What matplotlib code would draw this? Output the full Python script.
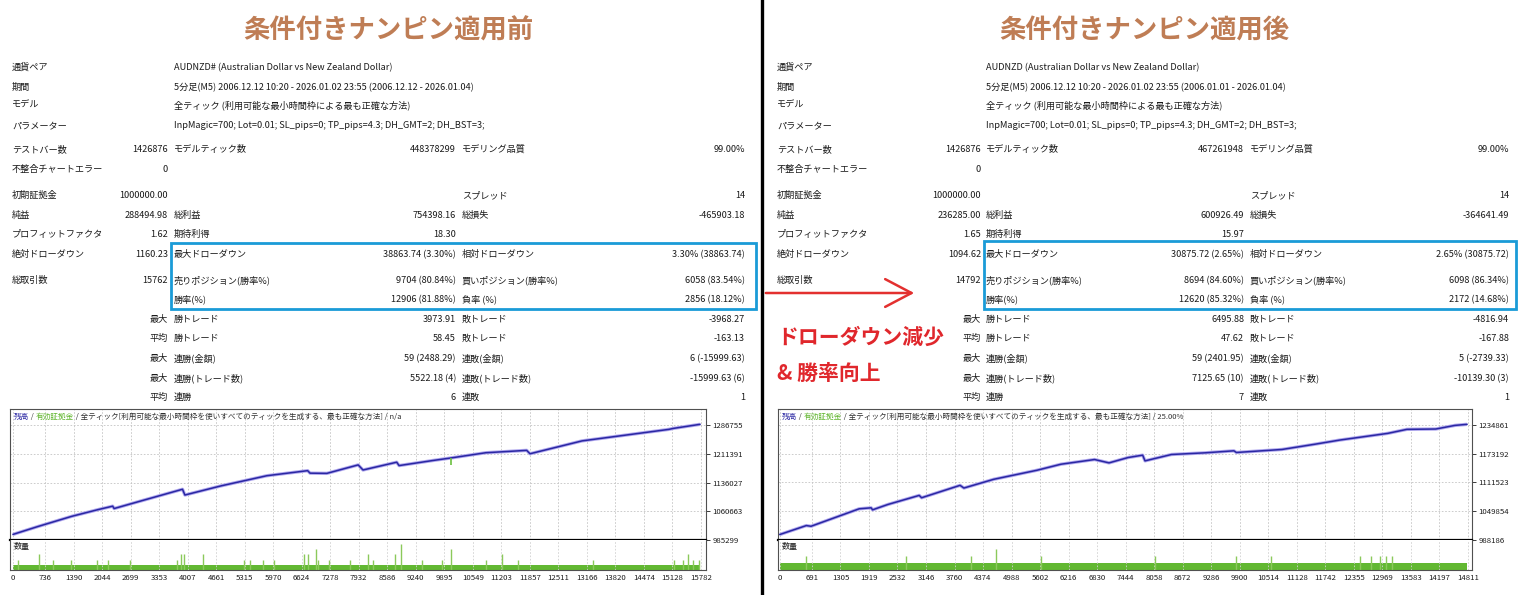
import numpy as np
import matplotlib
matplotlib.use("Agg")
import matplotlib.pyplot as plt
from matplotlib.patches import Rectangle

plt.rcParams['font.family'] = ['Noto Sans CJK JP', 'DejaVu Sans']

W, H = 1521, 595

# ---------------- data ----------------
titles = ['条件付きナンピン適用前', '条件付きナンピン適用後']
note_lines = ['ドローダウン減少', '& 勝率向上']

head_labels = ['通貨ペア', '期間', 'モデル', 'パラメーター']
head_before = ['AUDNZD# (Australian Dollar vs New Zealand Dollar)',
               '5分足(M5) 2006.12.12 10:20 - 2026.01.02 23:55 (2006.12.12 - 2026.01.04)',
               '全ティック (利用可能な最小時間枠による最も正確な方法)',
               'InpMagic=700; Lot=0.01; SL_pips=0; TP_pips=4.3; DH_GMT=2; DH_BST=3;']
head_after = ['AUDNZD (Australian Dollar vs New Zealand Dollar)',
              '5分足(M5) 2006.12.12 10:20 - 2026.01.02 23:55 (2006.01.01 - 2026.01.04)',
              '全ティック (利用可能な最小時間枠による最も正確な方法)',
              'InpMagic=700; Lot=0.01; SL_pips=0; TP_pips=4.3; DH_GMT=2; DH_BST=3;']

row_labels = [
    ('テストバー数', 'モデルティック数', 'モデリング品質'),
    ('不整合チャートエラー', '', ''),
    ('初期証拠金', '', 'スプレッド'),
    ('純益', '総利益', '総損失'),
    ('プロフィットファクタ', '期待利得', ''),
    ('絶対ドローダウン', '最大ドローダウン', '相対ドローダウン'),
    ('総取引数', '売りポジション(勝率%)', '買いポジション(勝率%)'),
    ('', '勝率(%)', '負率 (%)'),
    ('', '勝トレード', '敗トレード'),
    ('', '勝トレード', '敗トレード'),
    ('', '連勝(金額)', '連敗(金額)'),
    ('', '連勝(トレード数)', '連敗(トレード数)'),
    ('', '連勝', '連敗'),
]
row_qual = ['', '', '', '', '', '', '', '', '最大', '平均', '最大', '最大', '平均']

before_vals = [
    ('1426876', '448378299', '99.00%'),
    ('0', '', ''),
    ('1000000.00', '', '14'),
    ('288494.98', '754398.16', '-465903.18'),
    ('1.62', '18.30', ''),
    ('1160.23', '38863.74 (3.30%)', '3.30% (38863.74)'),
    ('15762', '9704 (80.84%)', '6058 (83.54%)'),
    ('', '12906 (81.88%)', '2856 (18.12%)'),
    ('', '3973.91', '-3968.27'),
    ('', '58.45', '-163.13'),
    ('', '59 (2488.29)', '6 (-15999.63)'),
    ('', '5522.18 (4)', '-15999.63 (6)'),
    ('', '6', '1'),
]
after_vals = [
    ('1426876', '467261948', '99.00%'),
    ('0', '', ''),
    ('1000000.00', '', '14'),
    ('236285.00', '600926.49', '-364641.49'),
    ('1.65', '15.97', ''),
    ('1094.62', '30875.72 (2.65%)', '2.65% (30875.72)'),
    ('14792', '8694 (84.60%)', '6098 (86.34%)'),
    ('', '12620 (85.32%)', '2172 (14.68%)'),
    ('', '6495.88', '-4816.94'),
    ('', '47.62', '-167.88'),
    ('', '59 (2401.95)', '5 (-2739.33)'),
    ('', '7125.65 (10)', '-10139.30 (3)'),
    ('', '7', '1'),
]

# balance curves (trade number, balance)
before_idx = [0, 574, 1347, 1955, 2286, 2319, 3004, 3888, 3943, 4771, 5821, 6760, 6815,
              7201, 7919, 8030, 8803, 8858, 9631, 10018, 10846, 11785, 11862, 13055,
              14049, 15043, 15154, 15762]
before_bal = [1000000, 1020763, 1047361, 1065093, 1073959, 1067753, 1089918, 1118289,
              1103217, 1127155, 1153753, 1167052, 1160500, 1159959, 1182124, 1168825,
              1189217, 1180351, 1193650, 1199856, 1214042, 1220248, 1211382, 1245073,
              1260145, 1275217, 1277877, 1288495]
before_eq_dip = [(10051, 1199900, 1183000)]

after_idx = [0, 569, 672, 1707, 1965, 1996, 2327, 3000, 3051, 3879, 3962, 4603, 5534,
             6051, 6775, 7086, 7499, 7810, 7861, 8430, 9154, 9775, 9827, 10809, 11533,
             12051, 13085, 13499, 14120, 14533, 14792]
after_bal = [1000000, 1019112, 1017673, 1055072, 1057229, 1052914, 1064421, 1083840,
             1078805, 1105416, 1099662, 1118361, 1137780, 1150725, 1160794, 1153602,
             1165109, 1170144, 1157915, 1171582, 1175178, 1179493, 1175897, 1182370,
             1193877, 1202508, 1216892, 1225522, 1226241, 1234000, 1236285]
after_eq_dip = []

before_yticks = [985299, 1060663, 1136027, 1211391, 1286755]
after_yticks = [988186, 1049854, 1111523, 1173192, 1234861]
before_xticks = [0, 736, 1390, 2044, 2699, 3353, 4007, 4661, 5315, 5970, 6624, 7278, 7932,
                 8586, 9240, 9895, 10549, 11203, 11857, 12511, 13166, 13820, 14474, 15128, 15782]
after_xticks = [0, 691, 1305, 1919, 2532, 3146, 3760, 4374, 4988, 5602, 6216, 6830, 7444,
                8058, 8672, 9286, 9900, 10514, 11128, 11742, 12355, 12969, 13583, 14197, 14811]

base_lot = 0.01
before_spike_idx = [110, 596, 928, 1325, 1933, 2187, 2673, 3755, 3855, 3932, 4352, 5302,
                    5445, 5743, 5986, 6682, 6760, 6958, 7003, 7257, 7732, 8151, 8251, 8770,
                    8913, 9377, 9852, 10051, 10846, 11222, 11586, 13298, 15176, 15374,
                    15485, 15596, 15728]
before_spike_lot = [0.02, 0.03, 0.02, 0.02, 0.02, 0.02, 0.02, 0.02, 0.03, 0.03, 0.03, 0.02,
                    0.02, 0.02, 0.02, 0.03, 0.03, 0.04, 0.02, 0.02, 0.02, 0.03, 0.02, 0.03,
                    0.05, 0.02, 0.02, 0.04, 0.02, 0.03, 0.02, 0.02, 0.02, 0.02, 0.03, 0.02, 0.02]
after_spike_idx = [569, 2720, 4117, 4655, 5617, 8068, 9827, 10571, 12495, 12723, 12909,
                   13044, 13168]
after_spike_lot = [0.02, 0.02, 0.02, 0.03, 0.02, 0.02, 0.02, 0.02, 0.02, 0.02, 0.02, 0.02, 0.02]

legend_tail = ['n/a', '25.00%']

# ---------------- layout ----------------
HEAD_Y = [67, 87, 105, 125]
ROW_Y = [149, 169, 195, 215, 234, 254, 280, 299, 319, 338, 358, 378, 397]
COLS = [(12, 168, 174, 456, 462, 745), (777, 981, 986, 1244, 1250, 1509)]
BOXES = [(171, 243, 756, 309), (984, 241, 1516, 309)]
TITLE_X = [388, 1144]
CHART_X = [(10, 706), (778, 1472)]
XLIMS = [(-70, 15900), (-40, 14900)]
VOL_TOP = [0.0577, 0.042]
EQ_TOP, EQ_BOT, VOL_BOT = 409, 540, 570
TICK_PX = 28.75

TXT = '#1b1b1b'
FS = 6.6

fig = plt.figure(figsize=(W / 100, H / 100), dpi=100)
fig.patch.set_facecolor('white')


def fx(x):
    return x / W


def fy(y):
    return 1 - y / H


def ptext(x, y, s, **kw):
    kw.setdefault('fontsize', FS)
    kw.setdefault('color', TXT)
    return fig.text(fx(x), fy(y + 3), s, va='baseline', **kw)


renderer = fig.canvas.get_renderer()


def chain_text(x, y, parts, size):
    for s, c in parts:
        t = fig.text(fx(x), fy(y + 2.5), s, va='baseline', ha='left', fontsize=size, color=c)
        bb = t.get_window_extent(renderer)
        x = bb.x1


panels = [
    (head_before, before_vals, before_idx, before_bal, before_eq_dip, before_yticks,
     before_xticks, before_spike_idx, before_spike_lot),
    (head_after, after_vals, after_idx, after_bal, after_eq_dip, after_yticks,
     after_xticks, after_spike_idx, after_spike_lot),
]

for p, (heads, vals, bidx, bal, dips, yt, xt, sidx, slot) in enumerate(panels):
    cA, vA, cB, vB, cC, vC = COLS[p]

    fig.text(fx(TITLE_X[p]), fy(31), titles[p], ha='center', va='center', fontsize=19,
             fontweight='bold', color='#bf7d55')

    for y, lab, val in zip(HEAD_Y, head_labels, heads):
        ptext(cA, y, lab)
        ptext(cB, y, val)

    for y, labs, q, v in zip(ROW_Y, row_labels, row_qual, vals):
        ptext(cA, y, labs[0])
        ptext(vA, y, v[0] if v[0] else q, ha='right')
        ptext(cB, y, labs[1])
        ptext(vB, y, v[1], ha='right')
        ptext(cC, y, labs[2])
        ptext(vC, y, v[2], ha='right')

    x0, y0, x1, y1 = BOXES[p]
    fig.patches.append(Rectangle((fx(x0), fy(y1)), fx(x1 - x0), (y1 - y0) / H,
                                 transform=fig.transFigure, fill=False,
                                 edgecolor='#1a9bd7', linewidth=2.0))

    # ---- balance chart
    left, right = CHART_X[p]
    ax = fig.add_axes([fx(left), fy(EQ_BOT), (right - left) / W, (EQ_BOT - EQ_TOP) / H])
    axv = fig.add_axes([fx(left), fy(VOL_BOT), (right - left) / W, (VOL_BOT - EQ_BOT) / H])

    ax.plot(bidx, bal, color='#b0a8ee', linewidth=2.4, solid_capstyle='butt')
    ax.plot(bidx, bal, color='#2a27a3', linewidth=1.1)
    for xi, ya, yb in dips:
        ax.vlines(xi, yb, ya, color='#6cc040', linewidth=1.2)

    step = yt[1] - yt[0]
    ax.set_ylim(yt[0], yt[0] + step * (EQ_BOT - EQ_TOP) / TICK_PX)
    ax.set_xlim(*XLIMS[p])
    ax.set_yticks(yt)
    ax.set_yticklabels([str(v) for v in yt])
    ax.yaxis.tick_right()
    ax.tick_params(axis='y', length=3, width=0.6, pad=1.5, labelsize=5.6, colors=TXT)
    ax.set_xticks(xt)
    ax.tick_params(axis='x', length=0, labelbottom=False)
    ax.grid(True, color='#c4c4c4', linestyle=(0, (2, 2)), linewidth=0.6)
    for s in ax.spines.values():
        s.set_color('#505050')
        s.set_linewidth(0.8)
    ax.spines['bottom'].set_color('black')
    ax.spines['bottom'].set_linewidth(1.6)

    chain_text(left + 4, EQ_TOP + 7,
               [('残高', '#2a27a3'), (' / ', '#404040'), ('有効証拠金', '#5fb52c'),
                (' / 全ティック[利用可能な最小時間枠を使いすべてのティックを生成する、最も正確な方法] / '
                 + legend_tail[p], '#303030')], 5.5)

    # ---- volume chart
    axv.fill_between([0, bidx[-1]], 0, base_lot, color='#62b832', linewidth=0)
    axv.vlines(sidx, 0, slot, color='#8bc95b', linewidth=1.0)
    axv.set_xlim(*XLIMS[p])
    axv.set_ylim(0, VOL_TOP[p])
    axv.set_xticks(xt)
    axv.set_xticklabels([str(v) for v in xt])
    axv.set_yticks([])
    axv.tick_params(axis='x', length=0, pad=3, labelsize=5.6, colors=TXT)
    axv.grid(True, axis='x', color='#d0d0d0', linestyle=(0, (2, 2)), linewidth=0.6)
    for s in axv.spines.values():
        s.set_color('#505050')
        s.set_linewidth(0.8)
    axv.spines['top'].set_visible(False)
    axv.text(0.006, 0.78, '数量', transform=axv.transAxes, fontsize=5.8, color=TXT,
             va='center', ha='left')

# ---- divider, arrow and note
fig.add_artist(plt.Line2D([fx(761.5), fx(761.5)], [0, 1], transform=fig.transFigure,
                          color='black', linewidth=2.4))
fig.add_artist(matplotlib.patches.FancyArrowPatch(
    (fx(763), fy(293)), (fx(917), fy(293)), transform=fig.transFigure,
    arrowstyle='->,head_length=1.9,head_width=1.0', mutation_scale=10,
    color='#e3302f', linewidth=1.8))
fig.text(fx(777), fy(337), note_lines[0], ha='left', va='center', fontsize=15,
         fontweight='bold', color='#e0272c')
fig.text(fx(777), fy(373), note_lines[1], ha='left', va='center', fontsize=15,
         fontweight='bold', color='#e0272c')

fig.savefig('out.png', dpi=100, facecolor='white')
